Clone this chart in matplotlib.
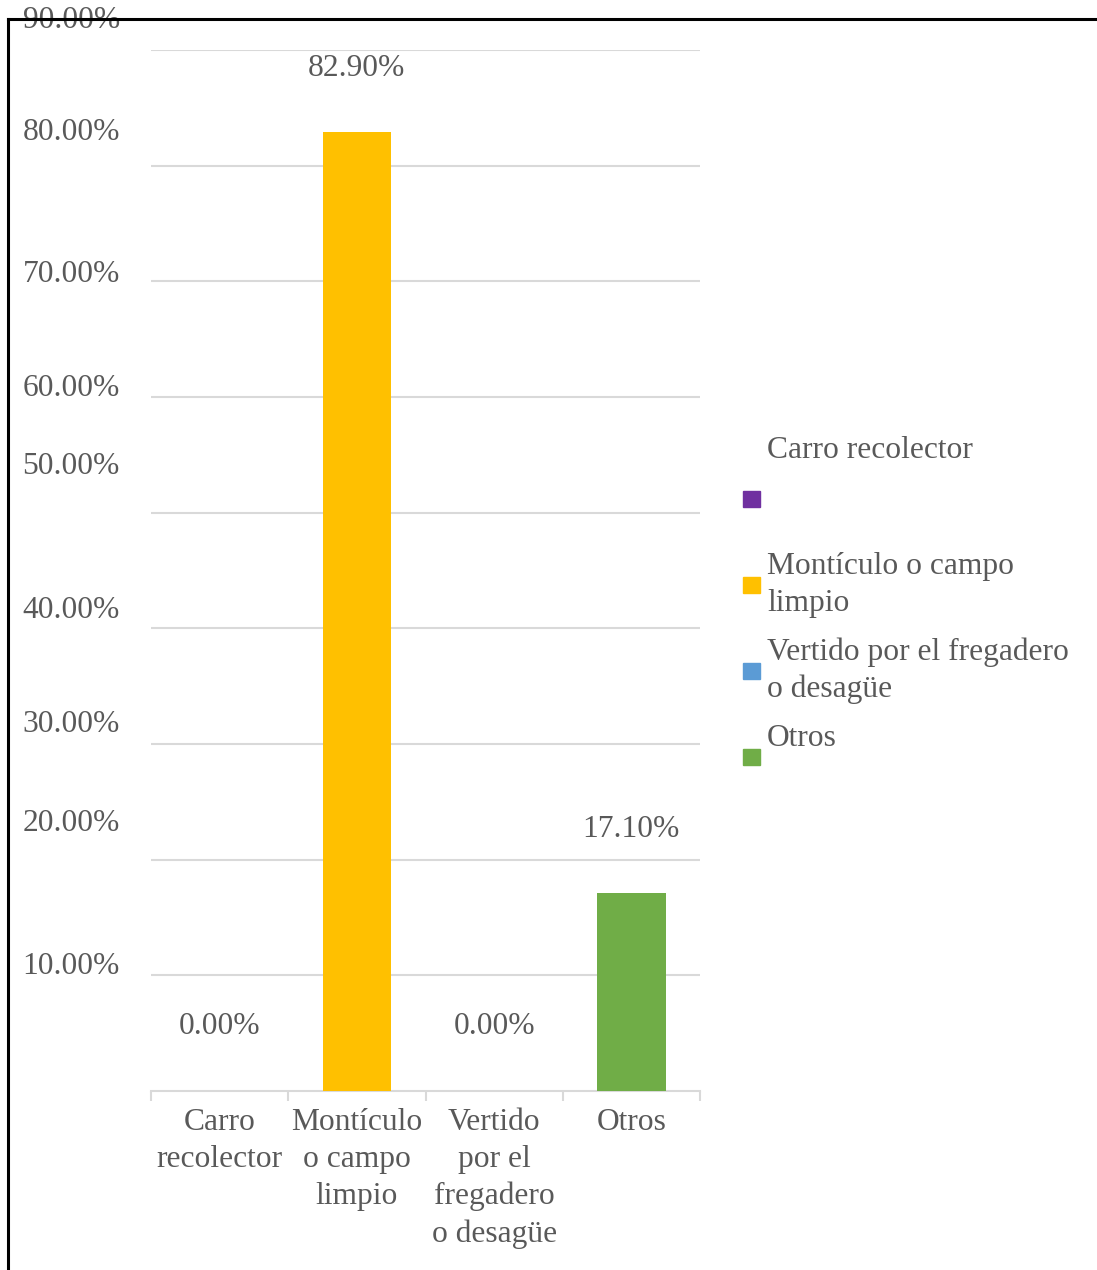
import matplotlib.pyplot as plt
from matplotlib.lines import Line2D
from matplotlib.patches import Rectangle

categories = ["Carro\nrecolector", "Montículo\no campo\nlimpio", "Vertido\npor el\nfregadero\no desagüe", "Otros"]
legend_labels = ["Carro recolector", "Montículo o campo\nlimpio", "Vertido por el fregadero\no desagüe", "Otros"]
values = [0.0, 82.9, 0.0, 17.1]
colors = ["#7030A0", "#FFC000", "#5B9BD5", "#70AD47"]
y_ticks = [10, 20, 30, 40, 50, 60, 70, 80, 90]

# vertical pixel nudges of the y tick labels, as laid out in the source document
tick_nudge = [9, 36, 19, 18, 46, 9, 7, 33, 30]

TEXT = "#595959"
GRID = "#D9D9D9"
FONT = "Liberation Serif"
FS = 22.7

plt.rcParams["font.family"] = [FONT, "DejaVu Serif"]

fig = plt.figure(figsize=(10.97, 12.70), dpi=100)
ax = fig.add_axes([151 / 1097, 179 / 1270, 549 / 1097, 1041 / 1270])

x = list(range(len(values)))
ax.bar(x, values, width=0.5, color=colors, zorder=3)

ax.set_xlim(-0.5, len(values) - 0.5)
ax.set_ylim(0, 90)

for spine in ["left", "right", "top"]:
    ax.spines[spine].set_visible(False)
ax.spines["bottom"].set_color(GRID)
ax.spines["bottom"].set_linewidth(1.5)

ax.set_yticks(y_ticks)
ax.yaxis.grid(True, color=GRID, linewidth=1.5, zorder=0)
ax.tick_params(axis="y", length=0, labelleft=False)

ax.set_xticks(x)
ax.set_xticklabels(categories, fontsize=FS, color=TEXT, linespacing=1.36)
ax.set_xticks([i - 0.5 for i in range(len(values) + 1)], minor=True)
ax.tick_params(axis="x", which="major", length=0, pad=12)
ax.tick_params(axis="x", which="minor", length=7, width=1.5, color=GRID)

for t, nudge in zip(y_ticks, tick_nudge):
    ax.annotate(f"{t:.2f}%", xy=(0, t), xycoords=("axes fraction", "data"),
                xytext=(-31, nudge), textcoords="offset pixels",
                ha="right", va="center", fontsize=FS, color=TEXT,
                annotation_clip=False)

for xi, v in zip(x, values):
    ax.annotate(f"{v:.2f}%", xy=(xi, v), xytext=(0, 64), textcoords="offset pixels",
                ha="center", va="center", fontsize=FS, color=TEXT, annotation_clip=False)

# legend drawn by hand so the odd spacing of the entries can be kept
legend_text_y = [451, 585, 671, 738]
legend_box_y = [499, 585, 671, 757]
H = 1270
for lab, c, ty, by in zip(legend_labels, colors, legend_text_y, legend_box_y):
    fig.patches.append(Rectangle((743 / 1097, (H - by - 8) / H), 17 / 1097, 16 / H,
                                 transform=fig.transFigure, color=c))
    fig.text(767 / 1097, (H - ty) / H, lab, fontsize=FS, color=TEXT,
             ha="left", va="center", linespacing=1.34)

# outer frame
fig.add_artist(Line2D([8 / 1097, 1.0], [(H - 19) / H] * 2, color="black", linewidth=2.2))
fig.add_artist(Line2D([8 / 1097] * 2, [0, (H - 19) / H], color="black", linewidth=2.2))

fig.savefig("out.png", dpi=100)
